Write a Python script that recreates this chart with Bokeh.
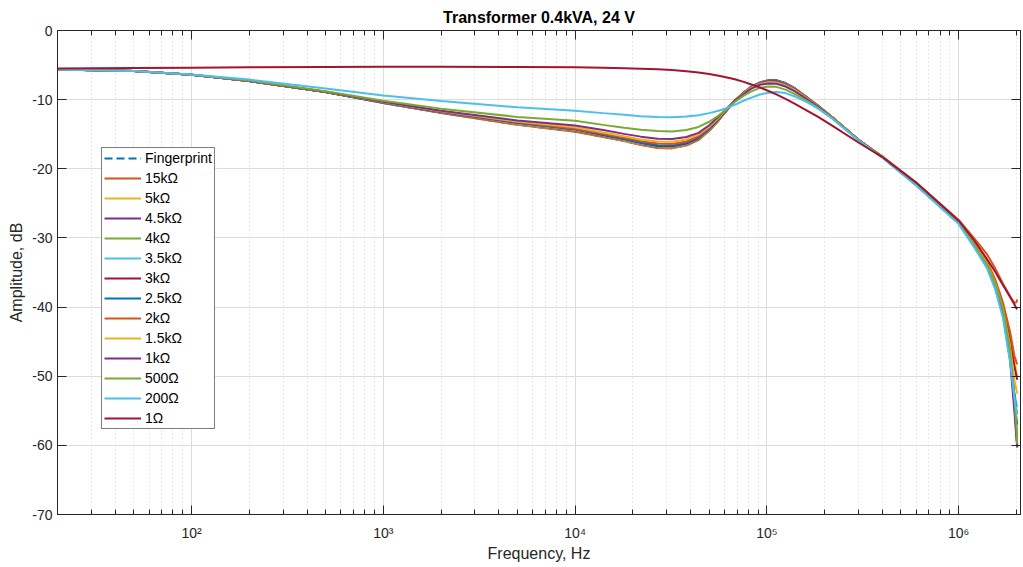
from bokeh.plotting import figure
from bokeh.models import (Range1d, FixedTicker, LogAxis, LinearAxis, Legend, LegendItem,
                          CustomJSTickFormatter)
from bokeh.embed import file_html
from bokeh.resources import INLINE

freq = [20, 50, 100, 200, 500, 1e3, 2e3, 5e3, 1e4,
        1.4e4, 1.8e4, 2.2e4, 2.7e4, 3.2e4, 3.8e4, 4.4e4, 5e4, 5.6e4, 6.2e4, 6.8e4,
        7.5e4, 8.3e4, 9.2e4, 1.02e5, 1.12e5, 1.25e5, 1.4e5, 1.6e5, 1.85e5, 2.2e5,
        3e5, 4e5, 6e5, 1e6, 1.2e6, 1.4e6, 1.55e6, 1.7e6, 1.85e6, 1.95e6, 2.0e6, 2.02e6]

fingerprint = [-5.65, -5.85, -6.4, -7.3, -8.9, -10.5, -11.9, -13.6, -14.6,
               -15.35, -15.95, -16.5, -16.95, -17.0, -16.6, -15.8, -14.5, -13.0, -11.5, -10.2,
               -9.1, -8.15, -7.55, -7.25, -7.25, -7.65, -8.4, -9.6, -10.9, -12.6,
               -15.8, -18.3, -22.3, -27.8, -31.0, -33.9, -36.9, -40.6, -46.5, -52.5, -56.0, -57.0]
r15k = [-5.65, -5.85, -6.4, -7.3, -8.9, -10.5, -11.95, -13.65, -14.65,
        -15.4, -16.0, -16.55, -17.0, -17.05, -16.65, -15.85, -14.55, -13.05, -11.5, -10.2,
        -9.1, -8.15, -7.55, -7.25, -7.25, -7.65, -8.4, -9.6, -10.9, -12.6,
        -15.8, -18.2, -22.0, -27.4, -30.0, -32.3, -34.4, -36.6, -38.4, -39.4, -39.3, -38.9]
r5k = [-5.65, -5.85, -6.4, -7.3, -8.9, -10.45, -11.85, -13.55, -14.5,
       -15.3, -15.9, -16.45, -16.9, -16.95, -16.55, -15.75, -14.45, -12.95, -11.45, -10.15,
       -9.05, -8.1, -7.5, -7.2, -7.2, -7.6, -8.35, -9.6, -10.9, -12.6,
       -15.8, -18.3, -22.2, -27.7, -30.8, -33.5, -36.2, -39.6, -44.0, -48.0, -49.5, -50.0]
r4k5 = [-5.65, -5.85, -6.4, -7.3, -8.9, -10.45, -11.85, -13.5, -14.45,
        -15.25, -15.85, -16.4, -16.85, -16.9, -16.5, -15.7, -14.4, -12.9, -11.45, -10.15,
        -9.05, -8.1, -7.5, -7.2, -7.2, -7.6, -8.35, -9.55, -10.9, -12.6,
        -15.8, -18.3, -22.3, -27.8, -31.0, -33.9, -36.9, -40.8, -47.0, -54.0, -58.5, -60.3]
r4k = [-5.65, -5.85, -6.4, -7.3, -8.9, -10.45, -11.8, -13.45, -14.4,
       -15.2, -15.8, -16.35, -16.8, -16.85, -16.45, -15.65, -14.35, -12.9, -11.45, -10.15,
       -9.1, -8.15, -7.55, -7.3, -7.3, -7.7, -8.45, -9.6, -10.9, -12.6,
       -15.8, -18.3, -22.3, -27.8, -31.0, -33.9, -36.8, -40.6, -46.5, -53.0, -57.0, -58.5]
r3k5 = [-5.65, -5.85, -6.4, -7.3, -8.9, -10.4, -11.8, -13.4, -14.35,
        -15.15, -15.75, -16.3, -16.75, -16.8, -16.4, -15.6, -14.3, -12.85, -11.4, -10.15,
        -9.1, -8.15, -7.55, -7.3, -7.3, -7.7, -8.45, -9.65, -10.95, -12.65,
        -15.85, -18.35, -22.4, -27.9, -31.2, -34.2, -37.3, -41.3, -47.5, -52.5, -54.0, -54.5]
r3k = [-5.65, -5.85, -6.4, -7.3, -8.9, -10.4, -11.75, -13.35, -14.3,
       -15.1, -15.7, -16.25, -16.7, -16.75, -16.35, -15.55, -14.25, -12.8, -11.4, -10.15,
       -9.1, -8.2, -7.6, -7.35, -7.35, -7.75, -8.5, -9.65, -10.95, -12.6,
       -15.8, -18.3, -22.3, -27.8, -30.9, -33.7, -36.5, -40.0, -44.5, -48.5, -50.0, -50.5]
r2k5 = [-5.65, -5.85, -6.4, -7.3, -8.9, -10.4, -11.75, -13.3, -14.25,
        -15.05, -15.65, -16.2, -16.6, -16.65, -16.25, -15.45, -14.2, -12.8, -11.4, -10.15,
        -9.15, -8.2, -7.6, -7.35, -7.35, -7.75, -8.5, -9.65, -10.95, -12.6,
        -15.8, -18.3, -22.3, -27.8, -31.0, -33.9, -36.9, -40.8, -47.0, -52.5, -55.0, -55.5]
r2k = [-5.65, -5.85, -6.4, -7.3, -8.85, -10.35, -11.7, -13.25, -14.2,
       -14.95, -15.5, -16.0, -16.35, -16.4, -16.05, -15.3, -14.05, -12.7, -11.35, -10.15,
       -9.15, -8.25, -7.65, -7.4, -7.45, -7.85, -8.55, -9.7, -10.95, -12.6,
       -15.8, -18.3, -22.2, -27.6, -30.6, -33.3, -36.0, -39.3, -43.5, -47.0, -48.0, -48.3]
r1k5 = [-5.65, -5.85, -6.4, -7.3, -8.85, -10.35, -11.65, -13.15, -14.0,
        -14.75, -15.3, -15.75, -16.05, -16.1, -15.75, -15.05, -13.9, -12.6, -11.3, -10.15,
        -9.2, -8.3, -7.75, -7.5, -7.55, -7.95, -8.65, -9.75, -11.0, -12.6,
        -15.8, -18.3, -22.2, -27.7, -30.8, -33.6, -36.5, -40.2, -45.5, -50.5, -52.0, -52.5]
r1k = [-5.65, -5.85, -6.4, -7.3, -8.85, -10.3, -11.6, -13.0, -13.75,
       -14.4, -14.95, -15.35, -15.65, -15.7, -15.4, -14.8, -13.7, -12.45, -11.25, -10.15,
       -9.25, -8.4, -7.85, -7.65, -7.7, -8.1, -8.8, -9.85, -11.05, -12.65,
       -15.8, -18.3, -22.3, -27.8, -31.0, -33.9, -36.9, -40.9, -47.5, -55.0, -59.0, -60.3]
r500 = [-5.65, -5.85, -6.4, -7.25, -8.8, -10.15, -11.3, -12.5, -13.05,
        -13.65, -14.05, -14.35, -14.55, -14.6, -14.4, -13.95, -13.2, -12.3, -11.3, -10.35,
        -9.5, -8.8, -8.3, -8.1, -8.15, -8.55, -9.2, -10.1, -11.2, -12.7,
        -15.8, -18.3, -22.3, -27.8, -31.0, -33.8, -36.6, -40.2, -46.0, -53.0, -57.5, -59.8]
r200 = [-5.65, -5.85, -6.35, -7.1, -8.4, -9.4, -10.2, -11.1, -11.6,
        -11.95, -12.2, -12.4, -12.5, -12.55, -12.45, -12.25, -11.95, -11.6, -11.2, -10.75,
        -10.2, -9.7, -9.25, -9.0, -8.9, -9.05, -9.55, -10.3, -11.3, -12.8,
        -15.9, -18.4, -22.4, -28.0, -31.3, -34.3, -37.4, -41.5, -47.8, -53.0, -55.0, -55.5]
r1 = [-5.5, -5.42, -5.38, -5.33, -5.28, -5.25, -5.25, -5.27, -5.33,
      -5.38, -5.45, -5.52, -5.6, -5.72, -5.88, -6.08, -6.3, -6.55, -6.8, -7.05,
      -7.4, -7.8, -8.25, -8.75, -9.25, -9.9, -10.6, -11.5, -12.5, -13.8,
      -16.2, -18.3, -22.0, -27.5, -30.3, -33.0, -34.9, -36.8, -38.5, -39.6, -40.2, -40.3]

labels = ["Fingerprint", "15kΩ", "5kΩ", "4.5kΩ", "4kΩ", "3.5kΩ", "3kΩ", "2.5kΩ",
          "2kΩ", "1.5kΩ", "1kΩ", "500Ω", "200Ω", "1Ω"]
series = [fingerprint, r15k, r5k, r4k5, r4k, r3k5, r3k, r2k5, r2k, r1k5, r1k, r500, r200, r1]
palette = ["#0072BD", "#D95319", "#EDB120", "#7E2F8E", "#77AC30", "#4DBEEE", "#A2142F"]

y_ticks = [-70, -60, -50, -40, -30, -20, -10, 0]
x_ticks = [1e2, 1e3, 1e4, 1e5, 1e6]
x_minor = [m * 10 ** e for e in range(1, 7) for m in range(2, 10) if 20 <= m * 10 ** e <= 2.1e6]

FONT = "Liberation Sans"
TXT = "#262626"

p = figure(width=1023, height=567, x_axis_type="log",
           x_range=Range1d(20, 2.1e6), y_range=Range1d(-70, 0),
           output_backend="svg", toolbar_location=None,
           min_border_left=57, min_border_right=3, min_border_top=30, min_border_bottom=53,
           background_fill_color="white", border_fill_color="white")
p.outline_line_color = TXT
p.outline_line_width = 1

p.title.text = "Transformer 0.4kVA, 24 V"
p.title.align = "center"
p.title.text_font = FONT
p.title.text_font_size = "16px"
p.title.text_font_style = "bold"
p.title.text_color = "black"

xt = FixedTicker(ticks=x_ticks, minor_ticks=x_minor)
yt = FixedTicker(ticks=y_ticks)
xfmt = CustomJSTickFormatter(code="""
const s = {2:'\u00b2', 3:'\u00b3', 4:'\u2074', 5:'\u2075', 6:'\u2076'};
return '10' + s[Math.round(Math.log10(tick))];
""")
yfmt = CustomJSTickFormatter(code="return tick.toFixed(0);")

xa = p.xaxis[0]
xa.ticker = xt
xa.formatter = xfmt
ya = p.yaxis[0]
ya.ticker = yt
ya.formatter = yfmt

for ax in (xa, ya):
    ax.axis_line_color = TXT
    ax.major_tick_line_color = TXT
    ax.minor_tick_line_color = TXT
    ax.major_tick_in = 9
    ax.major_tick_out = 0
    ax.minor_tick_in = 5
    ax.minor_tick_out = 0
    ax.major_label_text_font = FONT
    ax.major_label_text_font_size = "14px"
    ax.major_label_text_color = TXT
    ax.axis_label_text_font = FONT
    ax.axis_label_text_font_size = "16px"
    ax.axis_label_text_font_style = "normal"
    ax.axis_label_text_color = TXT
ya.minor_tick_line_color = None
xa.axis_label = "Frequency, Hz"
ya.axis_label = "Amplitude, dB"
xa.major_label_standoff = 10
xa.axis_label_standoff = 1
ya.major_label_standoff = 5
ya.axis_label_standoff = 4

top = LogAxis(ticker=xt, major_label_text_font_size="2px", major_label_text_color=None,
              major_label_standoff=0,
              axis_line_color=TXT, major_tick_line_color=TXT, minor_tick_line_color=TXT,
              major_tick_in=9, major_tick_out=0, minor_tick_in=5, minor_tick_out=0)
right = LinearAxis(ticker=yt, major_label_text_font_size="2px", major_label_text_color=None,
                   major_label_standoff=0,
                   axis_line_color=TXT, major_tick_line_color=TXT, minor_tick_line_color=None,
                   major_tick_in=9, major_tick_out=0)
p.add_layout(top, "above")
p.add_layout(right, "right")

p.xgrid.grid_line_color = "#dcdcdc"
p.ygrid.grid_line_color = "#dcdcdc"
p.xgrid.minor_grid_line_color = "#d4d4d4"
p.xgrid.minor_grid_line_dash = "1 3"
p.ygrid.minor_grid_line_color = None

items = []
for i, (lab, ys) in enumerate(zip(labels, series)):
    col = palette[i % 7]
    dash = "8 4" if i == 0 else "solid"
    r = p.line(freq, ys, line_color=col, line_width=2, line_dash=dash)
    items.append(LegendItem(label=lab, renderers=[r]))

legend = Legend(items=items, location=(44, 85), background_fill_color="white",
                background_fill_alpha=1, border_line_color="black", border_line_width=1,
                label_text_font=FONT, label_text_font_size="14px", label_text_color="black",
                glyph_width=37, glyph_height=16, label_height=16, spacing=4, padding=2,
                margin=0, label_standoff=4)
p.add_layout(legend)

open("out.html", "w").write(file_html(p, INLINE))
